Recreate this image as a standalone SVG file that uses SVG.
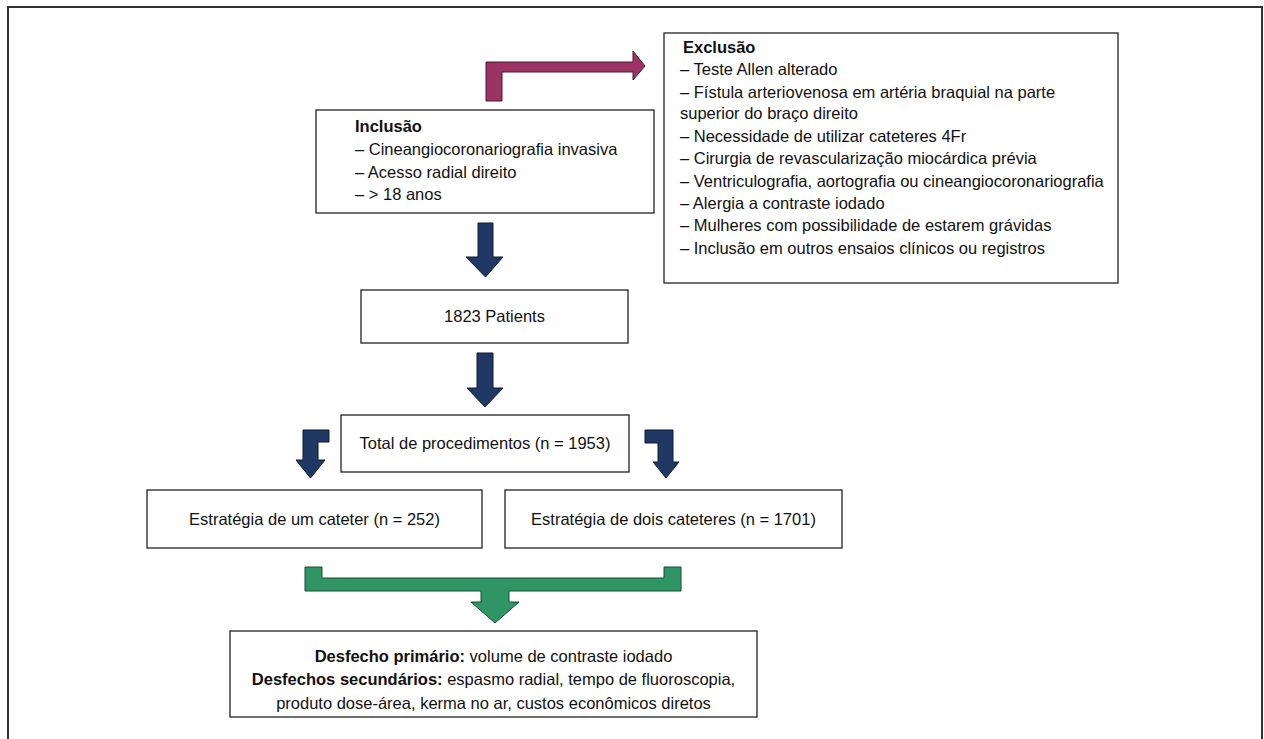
<svg xmlns="http://www.w3.org/2000/svg" width="1264" height="739" viewBox="0 0 1264 739">
<style>
.frame{fill:#fff;stroke:#333;stroke-width:2}
.box{fill:#fff;stroke:#222;stroke-width:1.3}
.t{font-family:"Liberation Sans",Arial,sans-serif;font-size:16.5px;fill:#111}
.b{font-weight:bold}
.mag{fill:#9b3365;stroke:#4a1a30;stroke-width:1}
.blue{fill:#1f3864;stroke:#0d1a33;stroke-width:1}
.green{fill:#2f9565;stroke:#1a4d33;stroke-width:1}
</style>
<rect width="1264" height="739" fill="#fff"/>
<rect class="frame" x="8" y="7" width="1254" height="745"/>
<g id="connectors">
<polygon class="mag" points="486,101 486,62 633,62 633,51 645,66 633,80 633,72 502,72 502,101"/>
<polygon class="blue" points="478,223 493,223 493,257 503,257 485.5,277 466,257 478,257"/>
<polygon class="blue" points="477,353 493,353 493,388 503,388 485,407 467,388 477,388"/>
<polygon class="blue" points="303,430 329,430 329,442 318,442 318,460 325,460 310.5,478 296,460 303,460"/>
<polygon class="blue" points="645,430 673,430 673,462 679,462 666,478 653,462 658,462 658,443 645,443"/>
<polygon class="green" points="305,567 322,567 322,578 664,578 664,567 681,567 681,591 509,591 509,602 519,602 495,623 471,602 481,602 481,591 305,591"/>
</g>
<g id="inclusao">
<rect class="box" x="316" y="110" width="338" height="103"/>
<text class="t b" x="355" y="132">Inclusão</text>
<text class="t" x="355" y="155">– Cineangiocoronariografia invasiva</text>
<text class="t" x="355" y="178">– Acesso radial direito</text>
<text class="t" x="355" y="200">– &gt; 18 anos</text>
</g>
<g id="exclusao">
<rect class="box" x="664" y="33" width="454" height="250"/>
<text class="t b" x="683" y="53">Exclusão</text>
<text class="t" x="680" y="75">– Teste Allen alterado</text>
<text class="t" x="680" y="98">– Fístula arteriovenosa em artéria braquial na parte</text>
<text class="t" x="680" y="119">superior do braço direito</text>
<text class="t" x="680" y="142">– Necessidade de utilizar cateteres 4Fr</text>
<text class="t" x="680" y="164">– Cirurgia de revascularização miocárdica prévia</text>
<text class="t" x="680" y="187">– Ventriculografia, aortografia ou cineangiocoronariografia</text>
<text class="t" x="680" y="209">– Alergia a contraste iodado</text>
<text class="t" x="680" y="231">– Mulheres com possibilidade de estarem grávidas</text>
<text class="t" x="680" y="254">– Inclusão em outros ensaios clínicos ou registros</text>
</g>
<g id="patients">
<rect class="box" x="361" y="290" width="267" height="53"/>
<text class="t" x="494.5" y="322" text-anchor="middle">1823 Patients</text>
</g>
<g id="total">
<rect class="box" x="341" y="415" width="288" height="57"/>
<text class="t" x="485" y="449" text-anchor="middle">Total de procedimentos (n = 1953)</text>
</g>
<g id="um-cateter">
<rect class="box" x="147" y="490" width="335" height="58"/>
<text class="t" x="314.5" y="525" text-anchor="middle">Estratégia de um cateter (n = 252)</text>
</g>
<g id="dois-cateteres">
<rect class="box" x="505" y="490" width="337" height="58"/>
<text class="t" x="673.5" y="525" text-anchor="middle">Estratégia de dois cateteres (n = 1701)</text>
</g>
<g id="desfechos">
<rect class="box" x="230" y="631" width="527" height="86"/>
<text class="t" x="493.5" y="662" text-anchor="middle"><tspan class="b">Desfecho primário:</tspan> volume de contraste iodado</text>
<text class="t" x="493.5" y="685" text-anchor="middle"><tspan class="b">Desfechos secundários:</tspan> espasmo radial, tempo de fluoroscopia,</text>
<text class="t" x="493.5" y="709" text-anchor="middle">produto dose-área, kerma no ar, custos econômicos diretos</text>
</g>
</svg>
